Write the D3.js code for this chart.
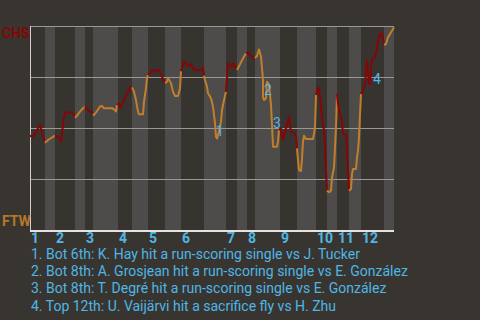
<!DOCTYPE html>
<html>
<head>
<meta charset="utf-8">
<script src="https://cdn.jsdelivr.net/npm/d3@7"></script>
<style>
  body { margin: 0; background: #383530; }
  text { font-family: Roboto, "Noto Sans", sans-serif; }
</style>
</head>
<body>
<svg width="480" height="320"></svg>
<script>
const teams = ['CHS', 'FTW']
const innings = ['1','2','3','4','5','6','7','8','9','10','11','12']
// pitch number where each half inning starts (top 1, bot 1, top 2, ...)
const halfStarts = [0,15,25,45,55,63,88,102,118,135,151,174,196,207,217,225,250,267,286,297,307,319,331,354]
const lastPitch = 364

// CHS win probability (%) after each pitch
const pitchNo = [0,3,10,13,15, 18,23,25, 27,30,31,32,33,34,35,38,41,43,45, 46,50,53,55, 58,61,63,
  64,67,70,72,74,82,85,86,87, 89,90,92,95,98,101,102, 104,106,108,109,113,114,116,117,118,
  119,122,125,128,129,131,133,135, 137,138,141,143,145,148,150,151,
  152,154,157,159,161,163,165,172,173,174,
  175,177,178,181,183,184,185,186,187,189,191,192,194,196,
  197,198,200,202,203,205,207, 210,213,216, 218,220,223,225,
  227,229,231,232,233,233,234,236,237,239,241,242,243,247,248,249,
  251,252,253,255,257,259,260,261,264,266,267,
  268,269,271,272,273,274,276,283,285,286,
  287,288,289,291,292,294,295,296,297, 299,301,302,304,305,306,307,
  308,310,312,313,316,317,318,319, 321,322,323,326,327,328,329,330,331,
  333,335,337,338,339,340,341,342,345,347,348,350,352,353,354, 356,358,362,364]
const winProb = [46.2,45.7,51.5,45.7,42.8, 44.1,45.7,46.2, 45.7,44.5,43.3,47.5,51.5,55.5,57.2,57.7,57.7,57.2,55.0, 55.5,58.0,59.7,60.4, 58.8,58.0,56.9,
  56.4,58.3,60.5,60.8,59.7,59.7,58.8,58.1,61.3, 62.1,60.0,61.3,64.6,67.8,70.2,69.9, 67.8,63.7,58.0,56.7,56.7,62.9,69.5,74.4,76.0,
  76.3,78.1,78.4,77.9,78.4,76.3,74.0,71.9, 72.7,74.4,71.9,67.8,65.7,65.7,69.5,77.9,
  79.3,82.5,81.2,80.4,81.2,79.3,78.4,78.4,79.6,75.6,
  73.5,70.2,67.0,64.6,60.4,56.4,52.3,45.7,44.9,48.2,53.1,58.8,63.7,67.8,
  74.4,81.7,80.9,80.0,81.7,80.0,78.4, 81.2,84.2,86.6, 87.1,85.8,84.5,84.2,
  85.4,88.5,85.0,79.3,73.5,65.3,63.7,64.6,72.7,71.4,61.3,51.5,40.8,40.8,43.3,49.0,
  49.9,45.7,44.1,47.9,51.8,55.5,51.5,47.9,47.9,45.7,40.0,
  34.3,29.4,28.9,35.1,43.3,46.2,44.6,44.6,49.9,66.2,
  67.8,69.9,68.6,61.8,54.4,48.7,42.2,29.1,19.3, 18.5,19.3,25.8,30.7,40.5,50.3,66.7,
  61.8,56.9,52.8,47.1,47.1,38.9,29.1,19.3, 20.1,27.5,29.9,29.9,35.6,38.9,45.4,56.9,66.7,
  68.3,71.6,83.0,76.5,71.6,71.6,79.8,83.8,84.7,88.7,92.8,96.1,96.4,93.6,90.8, 91.2,94.5,97.7,99.4]

const events = [
  '1. Bot 6th: K. Hay hit a run-scoring single vs J. Tucker',
  '2. Bot 8th: A. Grosjean hit a run-scoring single vs E. González',
  '3. Bot 8th: T. Degré hit a run-scoring single vs E. González',
  '4. Top 12th: U. Vaijärvi hit a sacrifice fly vs H. Zhu'
]
const eventPitch = [190, 238, 247, 347]
const eventProb = [48.7, 68.6, 52.3, 74.0]

const RED = '#850606'
const ORANGE = '#c27f2b'
const BLUE = '#4fb6e6'

const xScale = d3.scaleLinear().domain([0, lastPitch]).range([30, 394])
const yScale = d3.scaleLinear().domain([0, 100]).range([230, 26])

const svg = d3.select('svg')

// half inning bands
const halves = halfStarts.map((s, i) => ({
  start: s,
  end: i < halfStarts.length - 1 ? halfStarts[i + 1] : lastPitch,
  top: i % 2 === 0
}))

svg.append('g')
  .selectAll('rect')
  .data(halves)
  .enter()
  .append('rect')
  .attr('x', d => xScale(d.start))
  .attr('width', d => xScale(d.end) - xScale(d.start))
  .attr('y', yScale(100))
  .attr('height', yScale(0) - yScale(100))
  .attr('fill', d => d.top ? '#373430' : '#4d4c4b')

// grid lines
svg.append('g')
  .selectAll('line')
  .data([25, 50, 75, 100])
  .enter()
  .append('line')
  .attr('x1', xScale(0))
  .attr('x2', xScale(lastPitch))
  .attr('y1', d => Math.round(yScale(d)) + 0.5)
  .attr('y2', d => Math.round(yScale(d)) + 0.5)
  .attr('stroke', '#9a9895')
  .attr('stroke-width', 1)

// axes frame
svg.append('line')
  .attr('x1', xScale(0) + 0.5).attr('x2', xScale(0) + 0.5)
  .attr('y1', yScale(100)).attr('y2', yScale(0))
  .attr('stroke', '#d0cfcd').attr('stroke-width', 1)
svg.append('line')
  .attr('x1', xScale(0)).attr('x2', xScale(lastPitch))
  .attr('y1', yScale(0) + 1).attr('y2', yScale(0) + 1)
  .attr('stroke', '#e4e3e1').attr('stroke-width', 2)

// win probability line, one piece per half inning
const points = pitchNo.map((p, i) => ({ p, wp: winProb[i] }))
const line = d3.line().x(d => xScale(d.p)).y(d => yScale(d.wp))

halves.forEach((h, i) => {
  const inHalf = points.filter(d => i === 0 ? d.p <= h.end : d.p > h.start && d.p <= h.end)
  if (i > 0) {
    const prev = points.filter(d => d.p <= h.start)
    if (prev.length) inHalf.unshift(prev[prev.length - 1])
  }
  svg.append('path')
    .datum(inHalf)
    .attr('d', line)
    .attr('fill', 'none')
    .attr('stroke', h.top ? RED : ORANGE)
    .attr('stroke-width', 2)
    .attr('stroke-linejoin', 'round')
})

// team labels
svg.append('text')
  .attr('x', 2).attr('y', yScale(100) + 12)
  .attr('fill', RED).attr('font-weight', 'bold').attr('font-size', 14)
  .text(teams[0])
svg.append('text')
  .attr('x', 2).attr('y', yScale(0) - 4)
  .attr('fill', '#b6772a').attr('font-weight', 'bold').attr('font-size', 14)
  .text(teams[1])

// inning numbers
svg.append('g')
  .selectAll('text')
  .data(innings)
  .enter()
  .append('text')
  .attr('x', (d, i) => xScale(halfStarts[i * 2]) + 1)
  .attr('y', 243)
  .attr('fill', BLUE)
  .attr('font-weight', 'bold')
  .attr('font-size', 14)
  .text(d => d)

// event markers
svg.append('g')
  .selectAll('text')
  .data(events)
  .enter()
  .append('text')
  .attr('x', (d, i) => xScale(eventPitch[i]))
  .attr('y', (d, i) => yScale(eventProb[i]))
  .attr('text-anchor', 'middle')
  .attr('dominant-baseline', 'central')
  .attr('fill', BLUE)
  .attr('font-size', 14)
  .text((d, i) => i + 1)

// event list
svg.append('g')
  .selectAll('text')
  .data(events)
  .enter()
  .append('text')
  .attr('x', 31)
  .attr('y', (d, i) => 259 + i * 17.2)
  .attr('fill', BLUE)
  .attr('font-size', 14)
  .text(d => d)
</script>
</body>
</html>
